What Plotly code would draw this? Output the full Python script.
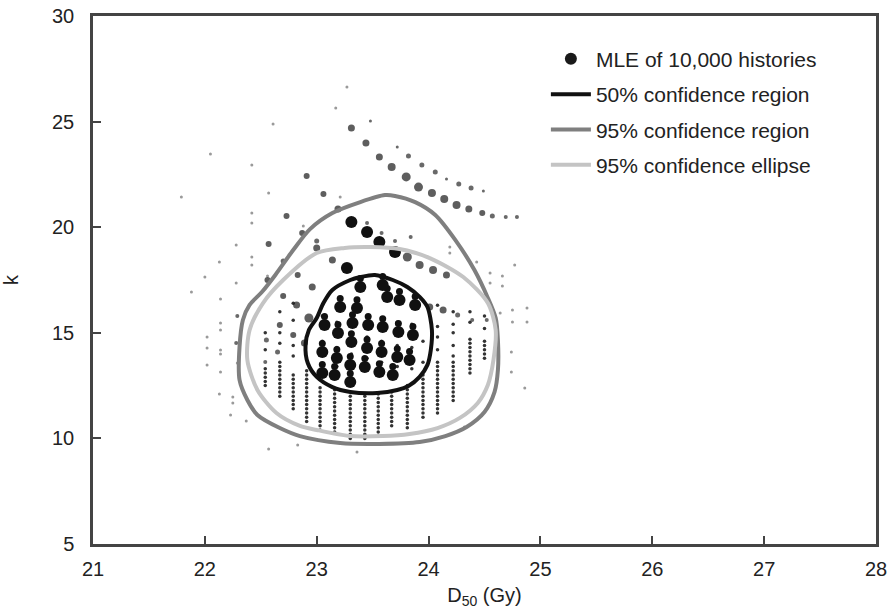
import plotly.graph_objects as go

# ---------------- data ----------------
# Large MLE clusters (teardrop heads)
big_d50 = [23.31, 23.45, 23.27, 23.70, 23.56, 23.39, 23.59, 23.21, 23.36, 23.63, 23.74, 23.88,
           23.07, 23.19, 23.32, 23.46, 23.59, 23.73, 23.86, 23.05, 23.18, 23.31, 23.45, 23.58,
           23.72, 23.83, 23.05, 23.16, 23.30, 23.43, 23.56, 23.68, 23.30]
big_k = [20.25, 19.77, 18.07, 18.83, 19.30, 17.17, 17.26, 16.22, 16.17, 16.70, 16.55, 16.32,
         15.37, 14.99, 15.46, 15.37, 15.27, 15.04, 14.90, 14.09, 13.81, 14.56, 14.28, 14.09,
         13.85, 13.71, 13.10, 13.00, 13.48, 13.38, 13.14, 13.00, 12.67]

# Upper parts of the teardrop clusters inside the 50% region
tail_d50 = [23.39, 23.59, 23.21, 23.36, 23.63, 23.74, 23.88, 23.07, 23.19, 23.32, 23.46, 23.59,
            23.73, 23.86, 23.05, 23.18, 23.31, 23.45, 23.58, 23.72, 23.83, 23.05, 23.16, 23.30,
            23.43, 23.56, 23.68, 23.30]
tail_k = [17.57, 17.66, 16.62, 16.57, 17.10, 16.95, 16.72, 15.77, 15.39, 15.86, 15.77, 15.67,
          15.44, 15.30, 14.49, 14.21, 14.96, 14.68, 14.49, 14.25, 14.11, 13.50, 13.40, 13.88,
          13.78, 13.54, 13.40, 13.07]

# Medium MLE clusters
med_d50 = [23.31, 23.44, 23.56, 23.67, 23.80, 23.91, 24.03, 24.14, 24.25, 24.36, 24.48,
           22.91, 23.06, 23.19, 23.81, 23.92, 24.04, 24.16,
           22.73, 22.87, 23.00, 23.14, 22.57, 22.83, 22.96, 22.70, 22.82, 22.56, 22.93, 22.67,
           22.79, 22.89, 24.01, 24.13]
med_k = [24.70, 23.99, 23.32, 22.85, 22.38, 21.90, 21.62, 21.34, 21.05, 20.86, 20.67,
         22.42, 21.57, 20.86, 18.59, 18.21, 17.97, 17.74,
         20.53, 19.73, 19.02, 18.45, 19.20, 17.74, 17.17, 16.74, 16.32, 17.50, 15.70, 15.37,
         14.90, 14.52, 16.22, 16.08]
med_size = [7, 7, 7, 8, 9, 9, 8, 8, 8, 7, 6,
            6, 6, 7, 9, 8, 8, 7,
            6, 6, 7, 7, 6, 6, 7, 6, 7, 6, 9, 6,
            6, 7, 7, 7]

# Small MLE clusters
small_d50 = [24.57, 24.69, 24.79, 23.48, 23.72, 23.82, 23.94, 24.06, 24.16, 24.27, 24.38, 24.49,
             23.45, 23.58, 23.70, 23.84, 23.00, 22.70, 22.55, 22.65, 22.54, 24.26, 24.39, 24.52,
             22.29, 22.28]
small_k = [20.53, 20.48, 20.48, 25.03, 23.80, 23.37, 22.95, 22.61, 22.28, 22.05, 21.86, 21.71,
           20.20, 19.73, 19.35, 19.54, 19.35, 18.40, 14.66, 14.09, 13.62, 15.84, 15.61, 15.61,
           15.80, 14.52]
small_size = [5, 4, 4, 3, 3, 5, 5, 5, 3, 5, 5, 3,
              4, 4, 4, 4, 5, 5, 5, 5, 4, 5, 4, 4,
              4, 4]

# Vertical streaks of small clusters (D50 column, k values)
streak_cols = [22.54, 22.67, 22.79, 22.91, 23.03, 23.16, 23.30, 23.43, 23.55, 23.67, 23.81,
               23.95, 24.08, 24.22, 24.37, 24.50,
               23.05, 23.18, 23.31, 23.45, 23.58, 23.72, 23.85]
streak_k = [
    [15.0, 14.2, 13.3, 13.1, 12.9, 12.7, 12.5],
    [16.0, 15.0, 14.5, 13.6, 13.4, 13.2, 13.0, 12.8, 12.6, 12.4, 12.2, 12.0],
    [16.4, 15.6, 14.4, 13.9, 13.0, 12.8, 12.6, 12.4, 12.2, 12.0, 11.8, 11.6, 11.4],
    [13.2, 13.0, 12.8, 12.6, 12.4, 12.2, 12.0, 11.8, 11.6, 11.4, 11.2, 11.0, 10.8],
    [12.4, 12.2, 12.0, 11.8, 11.6, 11.4, 11.2, 11.0, 10.8, 10.6, 10.4],
    [12.3, 12.1, 11.9, 11.7, 11.5, 11.3, 11.1, 10.9, 10.7, 10.5, 10.3],
    [12.0, 11.8, 11.6, 11.4, 11.2, 11.0, 10.8, 10.6, 10.4, 10.2, 10.0],
    [12.0, 11.8, 11.6, 11.4, 11.2, 11.0, 10.8, 10.6, 10.4, 10.2, 10.0],
    [12.1, 11.9, 11.7, 11.5, 11.3, 11.1, 10.9, 10.7, 10.5, 10.3, 10.1],
    [12.2, 12.0, 11.8, 11.6, 11.4, 11.2, 11.0, 10.8, 10.6],
    [12.5, 12.3, 12.1, 11.9, 11.7, 11.5, 11.3, 11.1, 10.9, 10.7, 10.5],
    [14.6, 13.6, 13.0, 12.8, 12.6, 12.4, 12.2, 12.0, 11.8, 11.6, 11.4, 11.2, 11.0],
    [16.3, 15.3, 14.8, 14.2, 13.6, 13.4, 13.2, 13.0, 12.8, 12.6, 12.4, 12.2, 12.0, 11.8, 11.6, 11.4, 11.2],
    [16.0, 15.4, 15.0, 14.4, 13.9, 13.6, 13.4, 13.2, 13.0, 12.8, 12.6, 12.4, 12.2, 12.0, 11.8],
    [16.0, 15.5, 14.7, 14.5, 14.3, 14.1, 13.9, 13.7, 13.5, 13.3, 13.1],
    [15.8, 15.2, 14.6, 14.4, 14.2, 14.0, 13.8],
    [15.8, 14.6, 13.5],
    [15.5, 14.3, 13.4],
    [15.9, 14.9, 14.0, 13.0],
    [15.8, 14.8, 13.8],
    [15.7, 14.6, 13.6],
    [15.5, 14.4, 13.4],
    [15.4, 14.3, 13.3],
]

# Isolated single histories (faint dots)
tiny_d50 = [22.61, 22.05, 22.42, 21.79, 22.57, 22.42, 22.42, 23.21, 22.28, 22.13, 22.00, 21.88,
            22.28, 22.42, 22.42, 22.56, 22.88, 22.14, 22.14, 22.14, 22.02, 22.02, 22.14, 22.14,
            22.02, 22.14, 22.13, 22.25, 22.25, 22.23, 22.37, 22.57, 22.29, 22.83, 23.36, 24.64,
            24.75, 24.88, 24.75, 24.88, 24.74, 24.74, 24.86, 24.32, 24.77, 24.55, 24.66, 24.55,
            24.66, 24.43, 24.19, 24.19, 23.17, 23.27]
tiny_k = [24.89, 23.47, 22.95, 21.43, 21.62, 20.67, 20.20, 21.43, 19.16, 18.35, 17.64, 16.93,
          17.36, 18.59, 18.21, 17.69, 20.06, 16.60, 15.46, 15.13, 14.80, 14.28, 14.19, 14.00,
          13.48, 13.14, 12.10, 11.96, 11.68, 11.11, 10.82, 9.50, 13.57, 9.69, 9.36, 15.94,
          16.08, 16.17, 15.51, 15.51, 14.09, 13.14, 12.39, 10.54, 18.21, 17.83, 17.69, 17.36,
          17.22, 18.35, 19.06, 18.78, 25.64, 26.64]

# 95% confidence region outline
r95_d50 = [23.61, 23.70, 23.88, 24.06, 24.24, 24.41, 24.53, 24.60, 24.62, 24.62, 24.59, 24.50,
           24.34, 24.15, 23.92, 23.56, 23.21, 22.85, 22.67, 22.47, 22.38, 22.31, 22.31, 22.34,
           22.40, 22.51, 22.63, 22.79, 22.94, 23.14, 23.39, 23.61]
r95_k = [21.52, 21.48, 21.19, 20.58, 19.39, 17.97, 16.65, 15.70, 14.66, 13.24, 12.20, 11.25,
         10.54, 10.11, 9.83, 9.74, 9.78, 10.11, 10.49, 11.11, 11.82, 12.77, 14.33, 15.61,
         16.32, 16.93, 17.74, 18.92, 19.91, 20.67, 21.19, 21.52]

# 95% confidence ellipse outline
e95_d50 = [23.48, 23.74, 24.01, 24.31, 24.53, 24.60, 24.58, 24.53, 24.44, 24.28, 24.08, 23.83,
           23.59, 23.30, 23.00, 22.85, 22.64, 22.47, 22.38, 22.40, 22.52, 22.70, 23.00, 23.25,
           23.48]
e95_k = [19.06, 18.97, 18.54, 17.64, 16.41, 15.13, 13.71, 12.53, 11.68, 10.97, 10.49, 10.21,
         10.11, 10.11, 10.40, 10.59, 11.20, 12.29, 13.71, 15.13, 16.41, 17.50, 18.78, 19.02,
         19.06]

# 50% confidence region outline
r50_d50 = [23.52, 23.68, 23.81, 23.92, 23.99, 24.03, 24.02, 23.99, 23.92, 23.82, 23.72, 23.54,
           23.30, 23.14, 23.00, 22.92, 22.90, 22.93, 23.00, 23.06, 23.14, 23.30, 23.39, 23.52]
r50_k = [17.74, 17.50, 17.17, 16.70, 16.22, 15.13, 14.19, 13.48, 12.91, 12.48, 12.29, 12.15,
         12.20, 12.43, 12.91, 13.57, 14.42, 15.13, 15.70, 16.41, 17.03, 17.50, 17.64, 17.74]

x_ticks = [21, 22, 23, 24, 25, 26, 27, 28]
y_ticks = [5, 10, 15, 20, 25, 30]

# ---------------- figure ----------------
FONT = "Liberation Sans, Arial, Helvetica, sans-serif"
fig = go.Figure()

sx, sy = [], []
for c, ks in zip(streak_cols, streak_k):
    for kv in ks:
        sx.append(c)
        sy.append(kv)

fig.add_trace(go.Scatter(x=tiny_d50, y=tiny_k, mode="markers", showlegend=False,
                         marker=dict(size=3, color="#9a9a9a", line=dict(width=0))))
fig.add_trace(go.Scatter(x=sx, y=sy, mode="markers", showlegend=False,
                         marker=dict(size=3.5, color="#333333", line=dict(width=0))))
fig.add_trace(go.Scatter(x=small_d50, y=small_k, mode="markers", showlegend=False,
                         marker=dict(size=small_size, color="#2a2a2a", line=dict(width=0))))
fig.add_trace(go.Scatter(x=med_d50, y=med_k, mode="markers", showlegend=False,
                         marker=dict(size=med_size, color="#1a1a1a", line=dict(width=0))))
fig.add_trace(go.Scatter(x=tail_d50, y=tail_k, mode="markers", showlegend=False,
                         marker=dict(size=7, color="#111111", line=dict(width=0))))
fig.add_trace(go.Scatter(x=big_d50, y=big_k, mode="markers", showlegend=False,
                         marker=dict(size=12, color="#111111", line=dict(width=0))))

# legend entry for the MLE points
fig.add_trace(go.Scatter(x=[None], y=[None], mode="markers", name="MLE of 10,000 histories",
                         legendgroup="a", legendrank=1,
                         marker=dict(size=12, color="#1a1a1a")))

fig.add_trace(go.Scatter(x=r95_d50, y=r95_k, mode="lines", name="95% confidence region",
                         legendgroup="c", legendrank=3,
                         line=dict(color="#7f7f7f", width=4, shape="spline", smoothing=0.8)))
fig.add_trace(go.Scatter(x=e95_d50, y=e95_k, mode="lines", name="95% confidence ellipse",
                         legendgroup="d", legendrank=4,
                         line=dict(color="#c4c4c4", width=4, shape="spline", smoothing=0.8)))
fig.add_trace(go.Scatter(x=r50_d50, y=r50_k, mode="lines", name="50% confidence region",
                         legendgroup="b", legendrank=2,
                         line=dict(color="#111111", width=4, shape="spline", smoothing=0.8)))

axis_common = dict(showgrid=False, zeroline=False, showline=True, linecolor="#444444",
                   linewidth=2.5, mirror=True, ticks="inside", ticklen=8, tickwidth=2,
                   tickcolor="#444444", automargin=False,
                   tickfont=dict(family=FONT, size=20, color="#222222"))

fig.update_xaxes(range=[21, 28], tickvals=x_ticks, ticktext=[str(v) for v in x_ticks],
                 ticklabelstandoff=5,
                 title=dict(text="D<sub>50</sub> (Gy)", font=dict(family=FONT, size=20, color="#222222"),
                            standoff=10),
                 **axis_common)
fig.update_yaxes(range=[5, 30], tickvals=y_ticks, ticktext=[str(v) for v in y_ticks],
                 ticklabelstandoff=12,
                 title=dict(text="k", font=dict(family=FONT, size=20, color="#222222"),
                            standoff=36),
                 **axis_common)

fig.update_layout(
    width=892, height=612,
    margin=dict(l=93, r=16, t=16, b=68, pad=0),
    paper_bgcolor="white", plot_bgcolor="white",
    font=dict(family=FONT, color="#222222"),
    legend=dict(x=0.5784, y=0.957, xanchor="left", yanchor="top",
                font=dict(family=FONT, size=21, color="#222222"),
                bgcolor="rgba(0,0,0,0)", borderwidth=0,
                traceorder="grouped", tracegroupgap=5, itemwidth=40),
)

fig.write_html("out.html")
